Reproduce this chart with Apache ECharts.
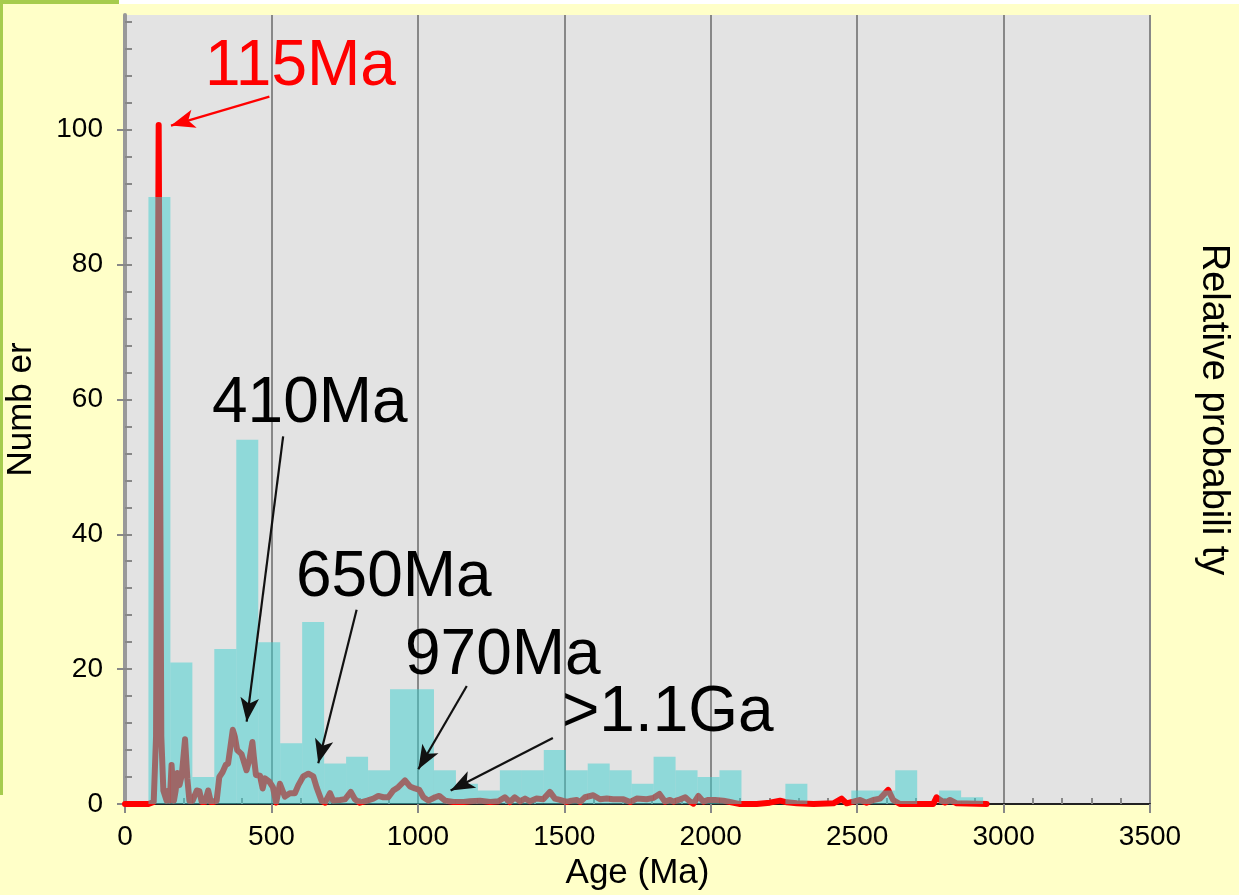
<!DOCTYPE html>
<html>
<head>
<meta charset="utf-8">
<script src="https://cdn.jsdelivr.net/npm/echarts@6/dist/echarts.min.js"></script>
<style>
html,body{margin:0;padding:0;background:#ffffc8;}
#chart{width:1239px;height:895px;}
</style>
</head>
<body>
<div id="chart"></div>
<script>
// Histogram bins (Ma) and counts
var binStarts = [80,155,230,305,380,455,530,605,680,755,830,905,980,1055,1130,1205,1280,1355,1430,1505,1580,1655,1730,1805,1880,1955,2030,2105,2180,2255,2330,2405,2480,2555,2630,2705,2780,2855];
var binWidth = 75;
var binCounts = [90,21,4,23,54,24,9,27,6,7,5,17,17,5,3,2,5,5,8,5,6,5,3,7,5,4,5,0,0,3,0,0,2,2,5,0,2,1];

// Relative probability curve (age in Ma, value in "Number" units)
var probAges = [0,80,98,106,111,115,119,124,131,142,148,153,159,167,173,179,186,194,205,213,220,231,245,254,262,273,284,293,302,313,322,333,344,352,368,375,383,398,415,425,435,440,447,461,470,478,493,505,516,529,546,563,580,592,609,626,643,654,671,683,700,711,734,751,771,785,802,827,848,865,882,899,916,933,956,973,990,1005,1019,1036,1059,1073,1093,1122,1156,1178,1212,1247,1275,1297,1314,1331,1349,1366,1383,1405,1428,1451,1468,1485,1508,1525,1542,1554,1571,1599,1622,1645,1667,1702,1725,1747,1781,1804,1825,1844,1861,1873,1890,1913,1930,1941,1958,1975,1992,2015,2043,2066,2088,2100,2157,2202,2237,2260,2294,2351,2419,2447,2464,2487,2510,2532,2555,2578,2606,2623,2646,2760,2771,2783,2800,2817,2840,2942];
var probValues = [0,0,0.3,10,60,100.7,60,10,2,0.5,2,0.5,5.8,0.5,2,4.6,2.8,4.3,9.6,3.7,0.5,0.5,2.0,1.9,0.3,0.3,2,0.3,0.3,0.5,4.0,4.7,5.8,6.0,11.0,10,8,7.4,5.0,6.6,9.2,7,4.3,4.2,2.3,3.8,3.3,2.5,0.2,3.0,1.1,1.6,1.6,2.8,4.1,4.5,4.1,2.5,0.5,0.2,1.6,0.5,0.6,0.7,1.8,0.7,0.2,0.5,0.8,1.2,1.0,1.0,2.0,2.5,3.5,2.6,2.3,2.1,1.0,0.5,1.0,1.2,0.5,0.3,0.3,0.4,0.5,0.3,0.4,1.0,0.3,1.0,0.4,0.8,0.4,0.8,0.7,1.8,0.8,0.6,0.3,0.5,0.6,0.3,1.0,1.3,0.7,0.8,0.7,0.7,0.3,0.8,0.7,0.9,1.5,0.35,0.6,0.35,0.6,1.0,0.35,0.05,1.2,0.35,0.6,0.6,0.5,0.3,0.1,0,0,0.2,0.5,0.25,0.1,0,0.1,0.8,0.1,0.35,0.6,0.2,0.6,0.8,2.1,0.6,0,0,1.0,0.6,0.2,0.6,0.1,0];

// Axis ticks
var xTicks = [0,500,1000,1500,2000,2500,3000,3500];
var yLabelTicks = [0,20,40,60,80,100];
var yMinorTicks = [0,4,8,12,16,20,24,28,32,36,40,44,48,52,56,60,64,68,72,76,80,84,88,92,96,100,104,108,112,116];

// Annotations (data units)
var annoTexts = ['115Ma','410Ma','650Ma','970Ma','>1.1Ga'];
var annoColors = ['#ff0000','#000000','#000000','#000000','#000000'];
var annoTextX = [273,297,584,956,1492];
var annoTextY = [109.3,59.2,33.5,21.9,13.5];
var arrowFrom = [[493,104.9],[540,54.5],[791,28.8],[1167,17.5],[1461,9.8]];
var arrowTo = [[157,100.6],[415.5,12.2],[660,6.05],[1001.6,5.15],[1112,2.0]];

var FONT = '"Liberation Sans", Arial, sans-serif';
var chart = echarts.init(document.getElementById('chart'));

var histData = binStarts.map(function (s, i) { return [s, s + binWidth, binCounts[i]]; });
var probData = probAges.map(function (a, i) { return [a, probValues[i]]; });

var markData = arrowFrom.map(function (f, i) {
  return [
    { coord: f, lineStyle: { color: annoColors[i] === '#ff0000' ? '#ff0000' : '#111111', width: 2.2, type: 'solid' } },
    { coord: arrowTo[i] }
  ];
});

var option = {
  animation: false,
  backgroundColor: '#ffffc8',
  grid: { left: 125, right: 89, top: 15, bottom: 91, show: true, backgroundColor: '#e3e3e3', borderWidth: 0, containLabel: false, outerBoundsMode: 'none' },
  xAxis: [
    {
      type: 'value', min: 0, max: 3500, interval: 500, position: 'bottom',
      name: 'Age (Ma)', nameLocation: 'middle', nameGap: 51,
      nameTextStyle: { fontSize: 35, color: '#000', fontFamily: FONT },
      axisLine: { show: true, lineStyle: { color: '#888', width: 2 } },
      axisTick: { show: true, inside: false, length: 9, lineStyle: { color: '#888', width: 2 } },
      axisLabel: { fontSize: 28, color: '#000', fontFamily: FONT, margin: 19, formatter: function (v) { return String(v); } },
      splitLine: { show: true, lineStyle: { color: '#888', width: 2 } }
    },
    {
      type: 'value', min: 0, max: 3500, interval: 500, position: 'bottom',
      axisLine: { show: false }, axisLabel: { show: false },
      axisTick: { show: false, inside: true },
      minorTick: { show: true, splitNumber: 5, length: 6, lineStyle: { color: '#888', width: 2 } },
      splitLine: { show: false }
    },
    {
      type: 'value', min: 0, max: 3500, position: 'top',
      axisLine: { show: true, lineStyle: { color: '#222', width: 2 } },
      axisLabel: { show: false }, axisTick: { show: false }, splitLine: { show: false }
    }
  ],
  yAxis: [
    {
      type: 'value', min: 0, max: 117, interval: 20, position: 'left',
      name: 'Numb er', nameLocation: 'middle', nameGap: 86, nameRotate: 90,
      nameTextStyle: { fontSize: 35, color: '#000', fontFamily: FONT },
      axisLine: { show: true, lineStyle: { color: '#888', width: 2 } },
      axisTick: { show: true, inside: false, length: 8, customValues: yLabelTicks, lineStyle: { color: '#888', width: 2 } },
      axisLabel: { fontSize: 28, color: '#000', fontFamily: FONT, margin: 22, customValues: yLabelTicks },
      splitLine: { show: false }
    },
    {
      type: 'value', min: 0, max: 117, position: 'left',
      axisLine: { show: false }, axisLabel: { show: false },
      axisTick: { show: true, inside: true, length: 7, customValues: yMinorTicks, lineStyle: { color: '#888', width: 2 } },
      splitLine: { show: false }
    },
    {
      type: 'value', min: 0, max: 117, position: 'right',
      name: 'Relative probabili ty', nameLocation: 'middle', nameGap: 44, nameRotate: -90,
      nameTextStyle: { fontSize: 38, color: '#000', fontFamily: FONT },
      axisLine: { show: true, lineStyle: { color: '#999', width: 4 } },
      axisLabel: { show: false }, axisTick: { show: false }, splitLine: { show: false }
    }
  ],
  series: [
    {
      type: 'line', xAxisIndex: 0, yAxisIndex: 2, data: probData,
      showSymbol: false, clip: false, z: 2,
      lineStyle: { color: '#ff0000', width: 6, cap: 'round', join: 'round' }
    },
    {
      type: 'custom', xAxisIndex: 0, yAxisIndex: 0, data: histData, z: 3,
      encode: { x: [0, 1], y: 2 },
      renderItem: function (params, api) {
        var p0 = api.coord([api.value(0), api.value(2)]);
        var p1 = api.coord([api.value(1), 0]);
        return {
          type: 'rect',
          shape: { x: p0[0], y: p0[1], width: p1[0] - p0[0], height: p1[1] - p0[1] },
          style: { fill: 'rgba(60,208,208,0.5)' }
        };
      }
    },
    {
      type: 'line', xAxisIndex: 0, yAxisIndex: 0, data: [], z: 5,
      markLine: {
        silent: true, animation: false,
        symbol: ['none', 'arrow'], symbolSize: [14, 24],
        label: { show: false },
        data: markData
      }
    }
  ]
};
chart.setOption(option);

var gfx = [
  { type: 'rect', shape: { x: 0, y: 0, width: 3, height: 795 }, style: { fill: '#a6cc4e' }, z: 0 },
  { type: 'rect', shape: { x: 0, y: 0, width: 119, height: 4 }, style: { fill: '#a6cc4e' }, z: 0 },
  { type: 'rect', shape: { x: 119, y: 0, width: 1120, height: 4 }, style: { fill: '#ffffff' }, z: 0 }
];
annoTexts.forEach(function (t, i) {
  var p = chart.convertToPixel({ xAxisIndex: 0, yAxisIndex: 0 }, [annoTextX[i], annoTextY[i]]);
  gfx.push({
    type: 'text', z: 10,
    style: { text: t, x: p[0], y: p[1], fill: annoColors[i], font: '64px ' + FONT, align: 'left', verticalAlign: 'middle' }
  });
});
chart.setOption({ graphic: gfx });
</script>
</body>
</html>
